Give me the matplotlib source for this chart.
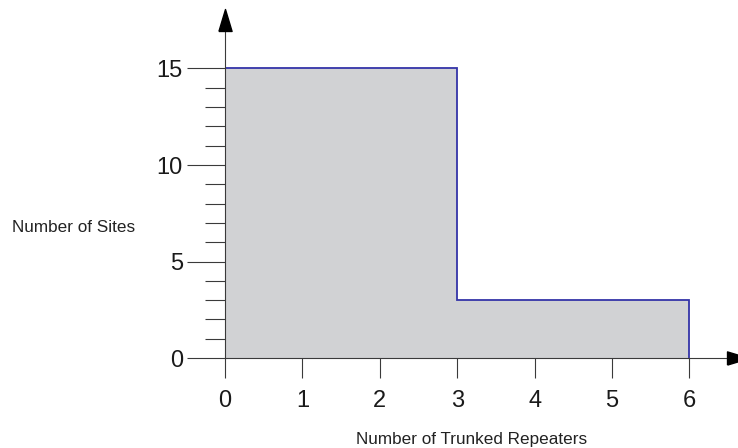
import matplotlib
matplotlib.use('Agg')
import matplotlib.pyplot as plt
import numpy as np

plt.rcParams['font.family'] = ['Liberation Sans', 'DejaVu Sans']

# histogram data: number of sites per repeater-count bin
bin_edges = [0, 3, 6]
site_counts = [15, 3]
x_ticks = [0, 1, 2, 3, 4, 5, 6]
y_major = [0, 5, 10, 15]
y_minor = [1, 2, 3, 4, 6, 7, 8, 9, 11, 12, 13, 14]

axis_col = '#3a3a3a'

fig = plt.figure(figsize=(7.38, 4.48), dpi=100)
W, H = 738, 448
# axes box in pixels: origin at (225, 358), arrow bases at x=727 and y=31
ax = fig.add_axes([225 / W, 90 / H, (727 - 225) / W, (358 - 31) / H])
ax.set_xlim(0, (727 - 225) / 77.4)
ax.set_ylim(0, (358 - 31) / 19.3)

ax.stairs(site_counts, bin_edges, fill=True, color='#d1d2d4', zorder=1)
ax.stairs(site_counts, bin_edges, color='#3434a8', linewidth=1.3, zorder=2)

for s in ['top', 'right']:
    ax.spines[s].set_visible(False)
for s in ['left', 'bottom']:
    ax.spines[s].set_color(axis_col)
    ax.spines[s].set_linewidth(0.8)
    ax.spines[s].set_zorder(3)

ax.set_xticks(x_ticks)
ax.set_yticks(y_major)
ax.set_yticks(y_minor, minor=True)
ax.tick_params(axis='x', direction='out', length=14.4, width=0.8, color=axis_col,
               labelsize=17, pad=8.5, labelcolor='#1a1a1a')
ax.tick_params(axis='y', which='major', direction='out', length=27.4, width=0.8,
               color=axis_col, labelsize=17, pad=3, labelcolor='#1a1a1a')
ax.tick_params(axis='y', which='minor', direction='out', length=14.4, width=0.8,
               color=axis_col)

# arrow heads at the ends of both axes
up = [(-0.3, -0.5), (0.3, -0.5), (0, 0.5), (-0.3, -0.5)]
right = [(-0.5, -0.3), (-0.5, 0.3), (0.5, 0), (-0.5, -0.3)]
ax.plot(0, (358 - 20) / 19.3, marker=up, markersize=15.8, color='black',
        clip_on=False, zorder=4)
ax.plot((738 - 225) / 77.4, 0, marker=right, markersize=15.8, color='black',
        clip_on=False, zorder=4)

fig.text(74 / W, 1 - 227 / H, 'Number of Sites', fontsize=12.3,
         ha='center', va='center', color='#222222')
fig.text(472 / W, 1 - 439 / H, 'Number of Trunked Repeaters', fontsize=12.3,
         ha='center', va='center', color='#222222')

plt.savefig('out.png', dpi=100)
